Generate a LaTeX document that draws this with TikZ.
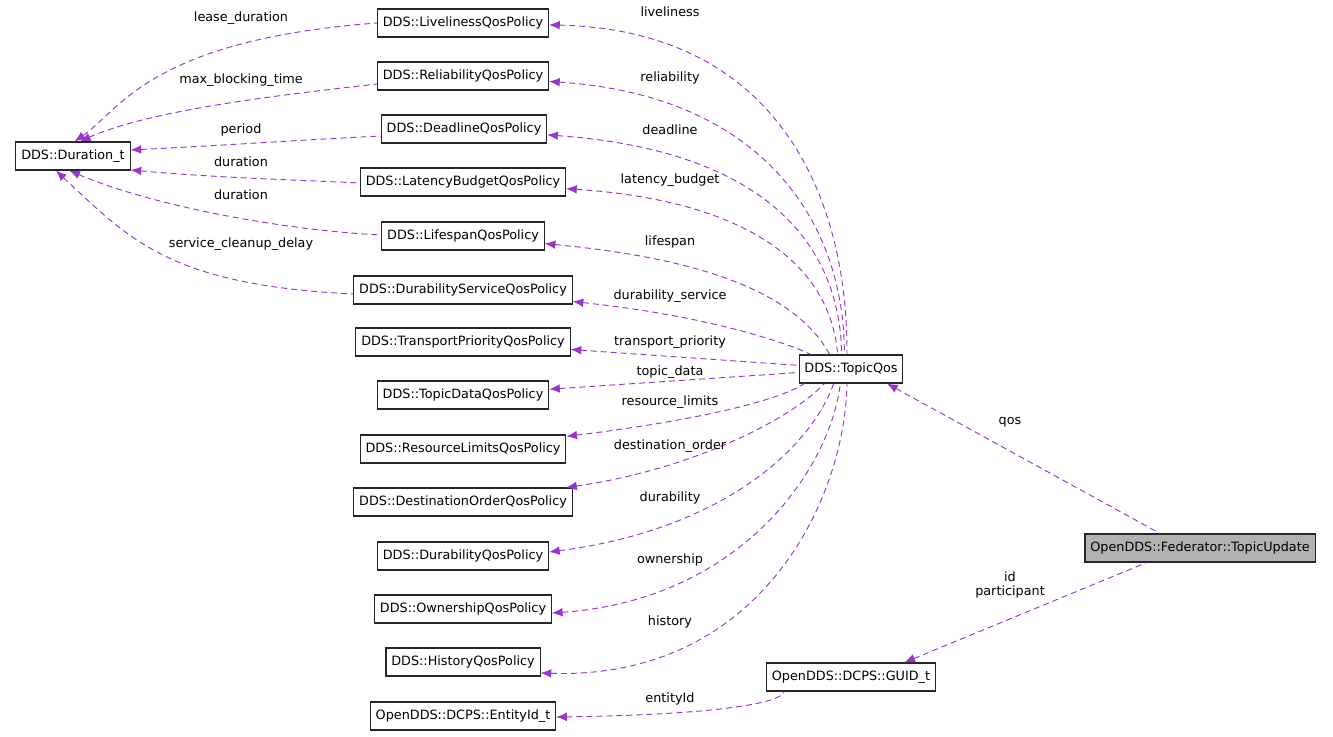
\documentclass[tikz,border=0pt]{standalone}
\usepackage{fontspec}
\setmainfont{DejaVu Sans}
\usetikzlibrary{arrows.meta}
\definecolor{edgepurple}{HTML}{9A32CD}
\tikzset{
  cls/.style={draw=black!85,line width=0.8pt,minimum height=21pt,inner xsep=4pt,font=\fontsize{9.6}{11}\selectfont},
  dep/.style={dashed,dash pattern=on 4.5pt off 3pt,draw=edgepurple,line width=0.7pt,{Latex[length=8pt,width=6.5pt,color=edgepurple]}-},
  lbl/.style={font=\fontsize{9.6}{11}\selectfont,inner sep=0pt}
}
\begin{document}
\begin{tikzpicture}[x=0.75pt,y=-0.75pt]
			\useasboundingbox (0,0) rectangle (1333,736);
			% classes
			\node[cls] (dur) at (73,156) {DDS::Duration\_t};
			\node[cls] (lv) at (463,23) {DDS::LivelinessQosPolicy};
			\node[cls] (rel) at (463,76) {DDS::ReliabilityQosPolicy};
			\node[cls] (dl) at (464,129) {DDS::DeadlineQosPolicy};
			\node[cls] (lb) at (463,182) {DDS::LatencyBudgetQosPolicy};
			\node[cls] (ls) at (463,236) {DDS::LifespanQosPolicy};
			\node[cls] (ds) at (463,290) {DDS::DurabilityServiceQosPolicy};
			\node[cls] (tp) at (463,342) {DDS::TransportPriorityQosPolicy};
			\node[cls] (td) at (463,395) {DDS::TopicDataQosPolicy};
			\node[cls] (rl) at (463,449) {DDS::ResourceLimitsQosPolicy};
			\node[cls] (dor) at (463,502) {DDS::DestinationOrderQosPolicy};
			\node[cls] (dy) at (463,556) {DDS::DurabilityQosPolicy};
			\node[cls] (ow) at (463,609) {DDS::OwnershipQosPolicy};
			\node[cls] (hi) at (463,662) {DDS::HistoryQosPolicy};
			\node[cls] (eid) at (463,716) {OpenDDS::DCPS::EntityId\_t};
			\node[cls] (tq) at (851,369) {DDS::TopicQos};
			\node[cls,fill=black!30] (tu) at (1200,548) {OpenDDS::Federator::TopicUpdate};
			\node[cls] (guid) at (851,677) {OpenDDS::DCPS::GUID\_t};
			% durations
			\draw[dep] (dur.north east) ++(-56,0) coordinate (d1) (d1) .. controls (120,110) and (150,40) .. (lv.west);
			\draw[dep] ([xshift=-38]dur.north east) .. controls (150,110) and (280,95) .. (rel.west |- 0,84);
			\draw[dep] (dur.east |- 0,150) .. controls (230,145) and (300,140) .. (dl.west |- 0,136);
			\draw[dep] (dur.east |- 0,170) .. controls (220,178) and (300,180) .. (lb.west |- 0,183);
			\draw[dep] ([xshift=-46]dur.south east) .. controls (150,205) and (280,230) .. (ls.west |- 0,235);
			\draw[dep] ([xshift=-56]dur.south east) .. controls (130,240) and (170,285) .. (ds.west |- 0,294);
			\node[lbl] (l1) at (241,18) {lease\_duration};
			\node[lbl] (l2) at (241,80) {max\_blocking\_time};
			\node[lbl] (l3) at (241,130) {period};
			\node[lbl] (l4) at (241,162) {duration};
			\node[lbl] (l5) at (241,195) {duration};
			\node[lbl] (l6) at (241,244) {service\_cleanup\_delay};
			% topic qos members
			\draw[dep] (lv) .. controls (780,30) and (848,200) .. ([xshift=-3]tq.north);
			\draw[dep] (rel) .. controls (760,95) and (845,220) .. ([xshift=-5]tq.north);
			\draw[dep] (dl) .. controls (760,150) and (840,240) .. ([xshift=-7]tq.north);
			\draw[dep] (lb) .. controls (740,200) and (830,260) .. ([xshift=-10]tq.north);
			\draw[dep] (ls) .. controls (720,260) and (800,300) .. ([xshift=-16]tq.north);
			\draw[dep] (ds) .. controls (700,315) and (780,340) .. ([xshift=-30]tq.north);
			\draw[dep] (tp) -- (tq);
			\draw[dep] (td) -- (tq);
			\draw[dep] (rl) .. controls (700,420) and (780,400) .. ([xshift=-35]tq.south);
			\draw[dep] (dor) .. controls (690,470) and (790,420) .. ([xshift=-20]tq.south);
			\draw[dep] (dy.east |- 0,552) .. controls (720,530) and (810,450) .. ([xshift=-13]tq.south);
			\draw[dep] (ow.east |- 0,613) .. controls (740,600) and (830,470) .. ([xshift=-8]tq.south);
			\draw[dep] (hi.east |- 0,673) .. controls (760,680) and (845,500) .. ([xshift=-3]tq.south);
			\node[lbl] (m1) at (670,12) {liveliness};
			\node[lbl] (m2) at (670,78) {reliability};
			\node[lbl] (m3) at (670,130) {deadline};
			\node[lbl] (m4) at (670,180) {latency\_budget};
			\node[lbl] (m5) at (670,242) {lifespan};
			\node[lbl] (m6) at (670,296) {durability\_service};
			\node[lbl] (m7) at (670,342) {transport\_priority};
			\node[lbl] (m8) at (670,372) {topic\_data};
			\node[lbl] (m9) at (670,402) {resource\_limits};
			\node[lbl] (m10) at (670,446) {destination\_order};
			\node[lbl] (m11) at (670,498) {durability};
			\node[lbl] (m12) at (670,560) {ownership};
			\node[lbl] (m13) at (670,622) {history};
			% topic update
			\draw[dep] ([xshift=27]tq.south) -- ([xshift=-30]tu.north);
			\draw[dep] ([xshift=40]guid.north) -- ([xshift=-40]tu.south);
			\draw[dep] (eid.east |- 0,717) .. controls (700,715) and (780,705) .. ([xshift=-50]guid.south);
			\node[lbl] (q1) at (1010,422) {qos};
			\node[lbl,align=center] (q2) at (1010,585) {id\\participant};
			\node[lbl] (q3) at (670,699) {entityId};
		\end{tikzpicture}
\end{document}
